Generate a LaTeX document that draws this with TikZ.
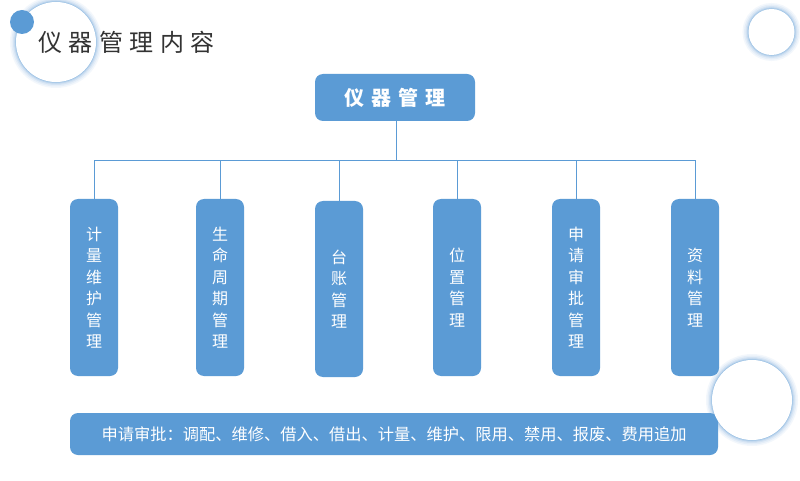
\documentclass[tikz,border=0pt]{standalone}
\usepackage{fontspec}
\setmainfont{Noto Sans CJK SC}
\definecolor{mblue}{HTML}{5B9BD5}
\definecolor{titlegray}{HTML}{333333}
\newcommand\glowcirc[3]{%
  \foreach \w/\o in {12/0.07,9/0.09,6/0.12,3.5/0.18,1.5/0.3}{
    \draw[mblue, line width=\w pt, opacity=\o] (#1,#2) circle[radius=#3];
  }
  \fill[white] (#1,#2) circle[radius=#3];
}
\begin{document}
\begin{tikzpicture}[x=1pt,y=-1pt,
  box/.style={fill=mblue, rounded corners=8pt, draw=none},
  col/.style={box, minimum width=48pt, minimum height=177pt, text=white,
    font=\fontsize{16}{21.5}\selectfont, align=center, inner sep=0pt},
  link/.style={draw=mblue, line width=0.9pt}]
\useasboundingbox (0,0) rectangle (800,481);
\fill[white] (0,0) rectangle (800,481);

% decorative circles (back)
\glowcirc{56}{42}{40}
\glowcirc{771.5}{32}{23}
\fill[mblue] (22,22) circle[radius=12];

% title
\node[anchor=west, inner sep=0pt, text=titlegray, font=\fontsize{24}{24}\selectfont] (title) at (38,42)
  {仪\hspace{6.5pt}器\hspace{6.5pt}管\hspace{6.5pt}理\hspace{6.5pt}内\hspace{6.5pt}容};

% top node
\node[box, minimum width=160pt, minimum height=47pt, text=white, inner sep=0pt,
  font=\fontsize{20}{20}\selectfont\bfseries] (top) at (395,97.5)
  {仪\hspace{7pt}器\hspace{7pt}管\hspace{7pt}理};

% columns
\node[col] (c1) at (94,287.5) {计\\量\\维\\护\\管\\理};
\node[col] (c2) at (220,287.5) {生\\命\\周\\期\\管\\理};
\node[col, minimum height=176pt] (c3) at (339,289) {台\\账\\管\\理};
\node[col] (c4) at (457,287.5) {位\\置\\管\\理};
\node[col] (c5) at (576,287.5) {申\\请\\审\\批\\管\\理};
\node[col] (c6) at (695,287.5) {资\\料\\管\\理};

% connectors
\coordinate (hub) at (396,160);
\draw[link] (top.south -| hub) -- (hub);
\draw[link] (c1.north) -- (c1.north |- hub) -- (c6.north |- hub) -- (c6.north);
\foreach \c in {c2,c3,c4,c5}{
  \draw[link] (\c.north) -- (\c.north |- hub);
}

% bottom bar
\node[box, minimum width=648pt, minimum height=42pt, text=white, inner sep=0pt,
  font=\fontsize{16.25}{16.25}\selectfont] (bar) at (394,434)
  {申请审批：调配、维修、借入、借出、计量、维护、限用、禁用、报废、费用追加};

% decorative circle (front)
\glowcirc{752}{400}{40}
\end{tikzpicture}
\end{document}
